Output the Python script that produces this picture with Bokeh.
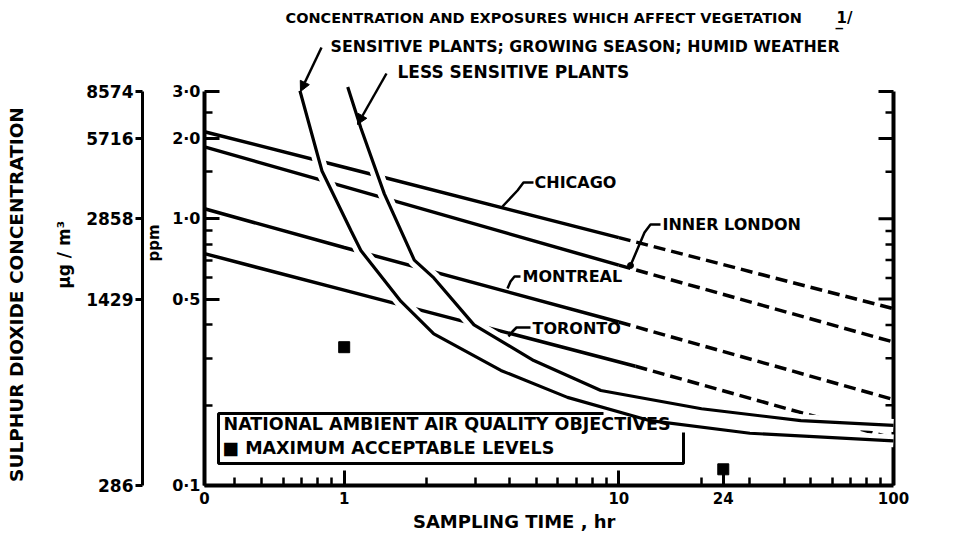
import math
from bokeh.plotting import figure
from bokeh.models import LogAxis, FixedTicker, Label, Arrow, NormalHead, LogScale, Range1d
from bokeh.embed import file_html
from bokeh.resources import INLINE

FONT = "DejaVu Sans"
NBSP = "\u00a0"

# ---------------- data ----------------
X_TICKS = [0.31, 1, 10, 24, 100]
X_TICK_LABELS = ["0", "1", "10", "24", "100"]
X_MINOR_TICKS = [0.4, 0.5, 0.6, 0.7, 0.8, 0.9, 2, 3, 4, 5, 6, 7, 8, 9,
                 20, 30, 40, 50, 60, 70, 80, 90]
PPM_TICKS = [0.1, 0.5, 1, 2, 3]
PPM_TICK_LABELS = ["0·1", "0·5", "1·0", "2·0", "3·0"]
PPM_MINOR_TICKS = [0.2, 0.3, 0.4, 0.6, 0.7, 0.8, 0.9, 1.5, 2.5]
UG_TICKS = [286, 1429, 2858, 5716, 8574]
UG_TICK_LABELS = ["286", "1429", "2858", "5716", "8574"]
UG_PER_PPM = 2858

CHICAGO_T = [0.31, 1, 10]
CHICAGO_PPM = [2.12, 1.56, 0.85]
CHICAGO_PROJ_T = [10, 100]
CHICAGO_PROJ_PPM = [0.85, 0.46]

LONDON_T = [0.31, 1, 10]
LONDON_PPM = [1.86, 1.32, 0.67]
LONDON_PROJ_T = [10, 100]
LONDON_PROJ_PPM = [0.67, 0.345]

MONTREAL_T = [0.31, 1, 10]
MONTREAL_PPM = [1.09, 0.78, 0.41]
MONTREAL_PROJ_T = [10, 100]
MONTREAL_PROJ_PPM = [0.41, 0.21]

TORONTO_T = [0.31, 1, 11.5]
TORONTO_PPM = [0.74, 0.54, 0.28]
TORONTO_PROJ_T = [11.5, 100]
TORONTO_PROJ_PPM = [0.28, 0.15]

SENSITIVE_T = [0.69, 0.83, 1.06, 1.15, 1.61, 2.12, 3.72, 6.5, 13, 30, 100]
SENSITIVE_PPM = [3.02, 1.51, 0.90, 0.76, 0.49, 0.37, 0.27, 0.214, 0.175, 0.157, 0.147]
LESS_T = [1.03, 1.15, 1.40, 1.80, 2.12, 2.97, 4.9, 8.6, 20, 46, 100]
LESS_PPM = [3.12, 2.19, 1.24, 0.70, 0.60, 0.40, 0.294, 0.227, 0.194, 0.175, 0.168]

OBJ_T = [1, 24]
OBJ_PPM = [0.33, 0.115]

# ---------------- layout ----------------
W, H = 955, 536
FL, FB = 204, 485            # frame left / bottom (pixels); frame runs to top & right edge
X_LEFT_PX, X_RIGHT_PX = 204, 893   # where X_TICKS[0] and X_TICKS[-1] sit
PPM_TOP_PX = 91                    # where 3.0 ppm sits
X0 = X_TICKS[0]
Y0 = PPM_TICKS[0]
X_PX_PER_DEC = (X_RIGHT_PX - X_LEFT_PX) / math.log10(X_TICKS[-1] / X0)
Y_PX_PER_DEC = (FB - PPM_TOP_PX) / math.log10(PPM_TICKS[-1] / Y0)


def dx(px):
    return X0 * 10 ** ((px - X_LEFT_PX) / X_PX_PER_DEC)


def dy(py):
    return Y0 * 10 ** ((FB - py) / Y_PX_PER_DEC)


X1 = dx(W)
Y1 = dy(0)

p = figure(width=W, height=H, title=None, x_axis_type="log", y_axis_type="log",
           x_range=Range1d(X0, X1), y_range=Range1d(Y0, Y1),
           output_backend="svg", toolbar_location=None,
           min_border_left=FL, min_border_right=0,
           min_border_top=0, min_border_bottom=H - FB)
p.outline_line_color = None
p.xgrid.visible = False
p.ygrid.visible = False
p.background_fill_color = "white"
p.border_fill_color = "white"


def base_axis(ax, lw=4):
    ax.axis_line_width = lw
    ax.axis_line_color = "black"
    ax.major_tick_line_width = 3
    ax.minor_tick_line_width = 2.5
    ax.major_tick_line_color = "black"
    ax.minor_tick_line_color = "black"
    ax.major_label_text_font = FONT
    ax.major_label_text_font_style = "bold"
    ax.major_label_text_color = "black"
    ax.axis_label_text_font = FONT
    ax.axis_label_text_font_style = "bold"
    ax.axis_label_text_color = "black"


# bottom time axis
xa = p.xaxis[0]
base_axis(xa)
xa.bounds = (X_TICKS[0], X_TICKS[-1])
xa.ticker = FixedTicker(ticks=X_TICKS, minor_ticks=X_MINOR_TICKS)
xa.major_label_overrides = dict(zip(X_TICKS, X_TICK_LABELS))
xa.major_tick_in = 15
xa.major_tick_out = 0
xa.minor_tick_in = 8
xa.minor_tick_out = 0
xa.major_label_standoff = 6
xa.major_label_text_font_size = "15px"
xa.axis_label = "SAMPLING TIME , hr" + NBSP * 21
xa.axis_label_text_font_size = "18px"
xa.axis_label_standoff = 4

# left ppm axis
ya = p.yaxis[0]
base_axis(ya)
ya.bounds = (PPM_TICKS[0], PPM_TICKS[-1])
ya.ticker = FixedTicker(ticks=PPM_TICKS, minor_ticks=PPM_MINOR_TICKS)
ya.major_label_overrides = dict(zip(PPM_TICKS, PPM_TICK_LABELS))
ya.major_tick_in = 15
ya.major_tick_out = 0
ya.minor_tick_in = 8
ya.minor_tick_out = 0
ya.major_label_standoff = 4
ya.major_label_text_font_size = "16px"
ya.axis_label = "ppm"
ya.axis_label_text_font_size = "15px"
ya.axis_label_standoff = 6

# second left axis: micrograms per cubic metre
p.extra_y_ranges = {"ug": Range1d(Y0 * UG_PER_PPM, Y1 * UG_PER_PPM)}
p.extra_y_scales = {"ug": LogScale()}
ua = LogAxis(y_range_name="ug", ticker=FixedTicker(ticks=UG_TICKS, minor_ticks=[]))
base_axis(ua, lw=3)
ua.bounds = (UG_TICKS[0], UG_TICKS[-1])
ua.major_label_overrides = dict(zip(UG_TICKS, UG_TICK_LABELS))
ua.major_tick_in = 0
ua.major_tick_out = 7
ua.major_label_standoff = 2
ua.major_label_text_font_size = "17px"
ua.axis_label = "µg / m³" + NBSP * 4
ua.axis_label_text_font_size = "17px"
ua.axis_label_standoff = 9
p.add_layout(ua, "left")

# outermost left "axis": only carries the quantity name
qa = LogAxis(y_range_name="ug", ticker=FixedTicker(ticks=[], minor_ticks=[]))
base_axis(qa)
qa.axis_line_color = None
qa.major_tick_line_color = None
qa.minor_tick_line_color = None
qa.major_label_text_font_size = "0px"
qa.axis_label = "SULPHUR DIOXIDE CONCENTRATION" + NBSP * 16
qa.axis_label_text_font_size = "18.5px"
qa.axis_label_standoff = 25
p.add_layout(qa, "left")

# right-hand frame line with inward ticks (same ppm scale)
x_right = X_TICKS[-1]
p.line([x_right, x_right], [PPM_TICKS[0], PPM_TICKS[-1]], line_color="black", line_width=4)
p.scatter([dx(X_RIGHT_PX - 7.5)] * len(PPM_TICKS), PPM_TICKS, marker="dash",
          size=15, line_width=3, line_color="black")
p.scatter([dx(X_RIGHT_PX - 4)] * len(PPM_MINOR_TICKS), PPM_MINOR_TICKS, marker="dash",
          size=8, line_width=2.5, line_color="black")

# ---- city lines ----
cities = [
    (CHICAGO_T, CHICAGO_PPM, CHICAGO_PROJ_T, CHICAGO_PROJ_PPM),
    (LONDON_T, LONDON_PPM, LONDON_PROJ_T, LONDON_PROJ_PPM),
    (MONTREAL_T, MONTREAL_PPM, MONTREAL_PROJ_T, MONTREAL_PROJ_PPM),
    (TORONTO_T, TORONTO_PPM, TORONTO_PROJ_T, TORONTO_PROJ_PPM),
]
for t, c, pt, pc in cities:
    p.line(t, c, line_color="black", line_width=3.5)
    p.line(pt, pc, line_color="black", line_width=3.5, line_dash="12 6")

# ---- vegetation curves (white halo breaks the lines they cross) ----
for t, c in [(SENSITIVE_T, SENSITIVE_PPM), (LESS_T, LESS_PPM)]:
    p.line(t, c, line_color="white", line_width=13)
for t, c in [(SENSITIVE_T, SENSITIVE_PPM), (LESS_T, LESS_PPM)]:
    p.line(t, c, line_color="black", line_width=3.2)

# ---- objectives ----
p.scatter(OBJ_T, OBJ_PPM, marker="square", size=11, color="black")

# ---- legend box ----
p.line([dx(603), dx(218), dx(218), dx(683), dx(683)],
       [dy(413), dy(413), dy(463), dy(463), dy(432)],
       line_color="black", line_width=3)

# ---- leaders to city lines ----
leaders = [
    [(533, 182), (523, 182), (517, 190), (502, 206)],   # Chicago
    [(660, 224), (650, 224), (644, 232), (630, 265)],   # Inner London
    [(520, 276), (514, 276), (510, 281), (507, 288)],   # Montreal
    [(530, 327), (516, 327), (512, 331), (508, 336)],   # Toronto
]
for pts in leaders:
    p.line([dx(a) for a, b in pts], [dy(b) for a, b in pts],
           line_color="black", line_width=2.5)
p.scatter([dx(630)], [dy(265)], size=6, color="black")


def lab(px, py, text, size, align="left"):
    p.add_layout(Label(x=dx(px), y=dy(py), text=text, text_font=FONT,
                       text_font_style="bold", text_font_size=size,
                       text_color="black", text_align=align,
                       text_baseline="middle"))


# city names
lab(534, 182, "CHICAGO", "16px")
lab(662, 224, "INNER LONDON", "16px")
lab(522, 276, "MONTREAL", "16px")
lab(532, 328, "TORONTO", "16px")

# legend text
lab(223, 423, "NATIONAL AMBIENT AIR QUALITY OBJECTIVES", "17.5px")
lab(222, 447, "■   MAXIMUM ACCEPTABLE LEVELS", "17.5px")

# titles above the curves
lab(285, 17, "CONCENTRATION  AND EXPOSURES WHICH AFFECT VEGETATION", "14.5px")
lab(836, 17, "1/", "15px")
lab(835, 20, "_", "15px")
lab(330, 46, "SENSITIVE PLANTS; GROWING SEASON; HUMID WEATHER", "15.8px")
lab(397, 71, "LESS SENSITIVE PLANTS", "17px")

# arrows from the titles to the curves
for (x0, y0, x1, y1) in [(321, 47, 300, 91), (386, 73, 357, 124)]:
    p.add_layout(Arrow(end=NormalHead(size=10, fill_color="black", line_color="black"),
                       x_start=dx(x0), y_start=dy(y0), x_end=dx(x1), y_end=dy(y1),
                       line_width=2.5, line_color="black"))

open("out.html", "w").write(file_html(p, INLINE))
